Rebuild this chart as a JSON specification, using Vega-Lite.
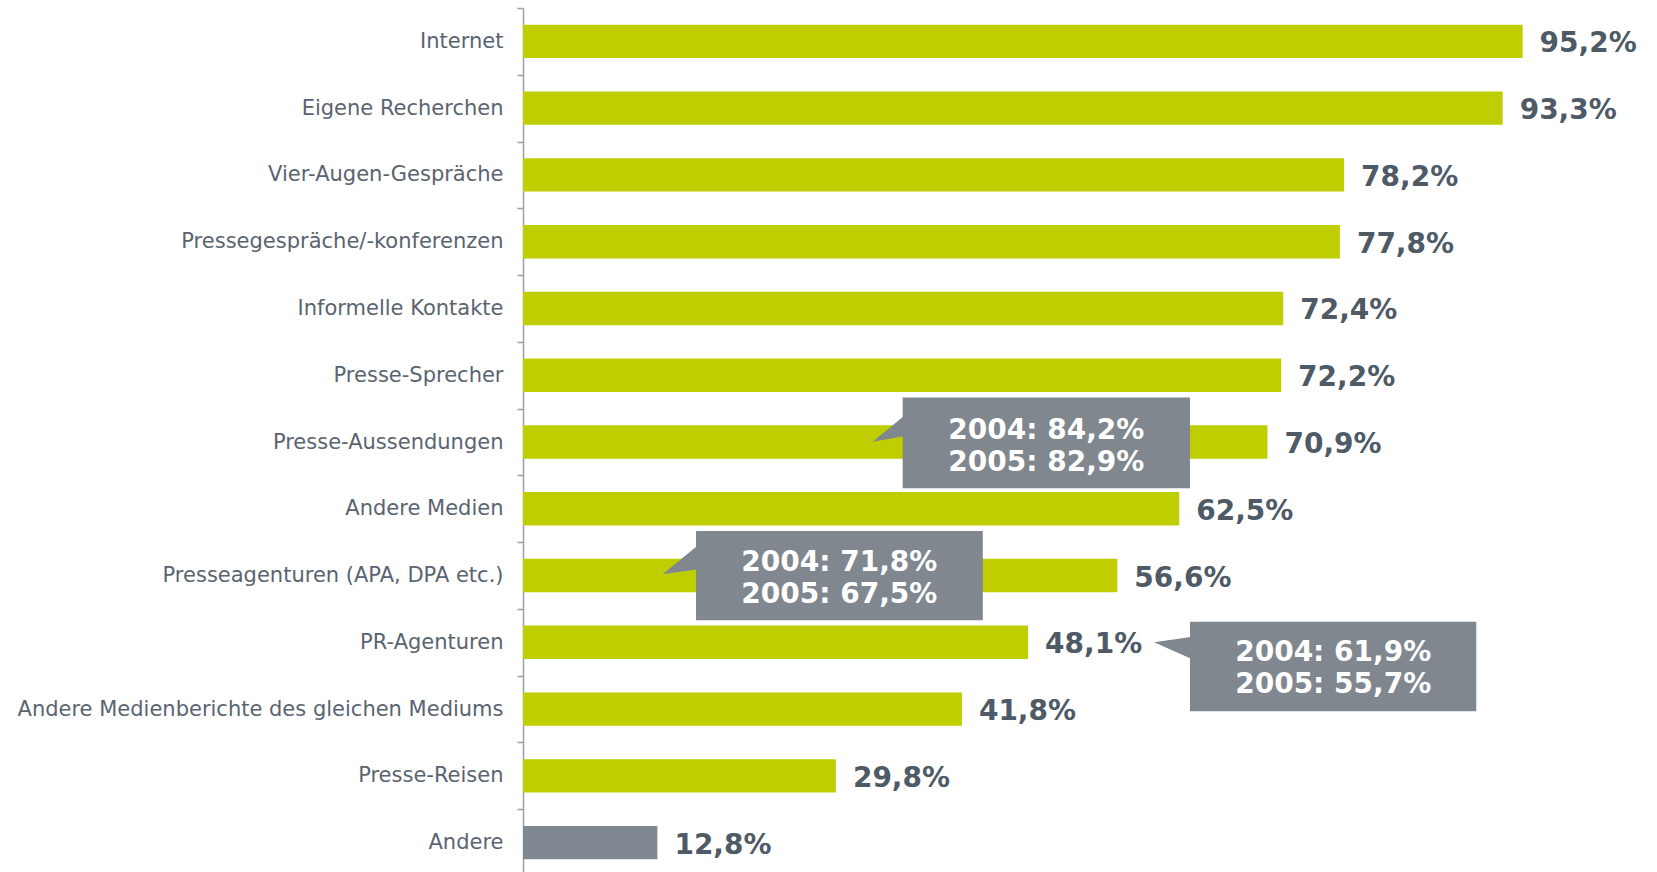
{
  "$schema": "https://vega.github.io/schema/vega-lite/v6.json",
  "autosize": {"type": "none"},
  "padding": {"left": 523, "top": 8, "right": 84, "bottom": 0},
  "width": 1050,
  "height": 868,
  "background": "white",
  "config": {"view": {"stroke": null}},
  "datasets": {
    "bars": [
      {"source": "Internet", "value": 95.2, "shown": "95,2%", "kind": "main"},
      {"source": "Eigene Recherchen", "value": 93.3, "shown": "93,3%", "kind": "main"},
      {"source": "Vier-Augen-Gespräche", "value": 78.2, "shown": "78,2%", "kind": "main"},
      {"source": "Pressegespräche/-konferenzen", "value": 77.8, "shown": "77,8%", "kind": "main"},
      {"source": "Informelle Kontakte", "value": 72.4, "shown": "72,4%", "kind": "main"},
      {"source": "Presse-Sprecher", "value": 72.2, "shown": "72,2%", "kind": "main"},
      {"source": "Presse-Aussendungen", "value": 70.9, "shown": "70,9%", "kind": "main"},
      {"source": "Andere Medien", "value": 62.5, "shown": "62,5%", "kind": "main"},
      {"source": "Presseagenturen (APA, DPA etc.)", "value": 56.6, "shown": "56,6%", "kind": "main"},
      {"source": "PR-Agenturen", "value": 48.1, "shown": "48,1%", "kind": "main"},
      {"source": "Andere Medienberichte des gleichen Mediums", "value": 41.8, "shown": "41,8%", "kind": "main"},
      {"source": "Presse-Reisen", "value": 29.8, "shown": "29,8%", "kind": "main"},
      {"source": "Andere", "value": 12.8, "shown": "12,8%", "kind": "other"}
    ],
    "boxes": [
      {"id": 1, "x1": 36.16, "x2": 63.52, "y1": 5.833, "y2": 7.192},
      {"id": 2, "x1": 16.48, "x2": 43.79, "y1": 7.833, "y2": 9.170},
      {"id": 3, "x1": 63.52, "x2": 90.79, "y1": 9.191, "y2": 10.532}
    ],
    "pointers": [
      {"id": 1, "x": 33.30, "ya": 6.495, "yb": 6.495},
      {"id": 1, "x": 36.40, "ya": 6.096, "yb": 6.410},
      {"id": 2, "x": 13.30, "ya": 8.481, "yb": 8.481},
      {"id": 2, "x": 16.70, "ya": 8.043, "yb": 8.407},
      {"id": 3, "x": 60.10, "ya": 9.500, "yb": 9.500},
      {"id": 3, "x": 63.75, "ya": 9.416, "yb": 9.754}
    ],
    "notes": [
      {"x": 49.84, "y": 6.335, "note": "2004: 84,2%"},
      {"x": 49.84, "y": 6.812, "note": "2005: 82,9%"},
      {"x": 30.13, "y": 8.312, "note": "2004: 71,8%"},
      {"x": 30.13, "y": 8.791, "note": "2005: 67,5%"},
      {"x": 77.16, "y": 9.660, "note": "2004: 61,9%"},
      {"x": 77.16, "y": 10.135, "note": "2005: 55,7%"}
    ]
  },
  "resolve": {"scale": {"y": "independent"}},
  "layer": [
    {
      "data": {"name": "bars"},
      "encoding": {
        "y": {
          "field": "source",
          "type": "nominal",
          "sort": null,
          "scale": {"paddingInner": 0.5, "paddingOuter": 0.25},
          "axis": {
            "title": null,
            "labelFont": "DejaVu Sans",
            "labelFontSize": 21,
            "labelColor": "#5a6470",
            "labelPadding": 14,
            "labelLimit": 600,
            "labelOffset": 33.4,
            "tickSize": 6,
            "tickOffset": -33.4,
            "tickColor": "#9aa0a7",
            "tickWidth": 1.5,
            "domainColor": "#9aa0a7",
            "domainWidth": 1.5
          }
        },
        "x": {
          "field": "value",
          "type": "quantitative",
          "scale": {"domain": [0, 100], "nice": false},
          "axis": null
        }
      },
      "layer": [
        {
          "mark": {"type": "bar"},
          "encoding": {
            "color": {
              "field": "kind",
              "type": "nominal",
              "scale": {"domain": ["main", "other"], "range": ["#bfce00", "#7f8790"]},
              "legend": null
            }
          }
        },
        {
          "mark": {
            "type": "text",
            "align": "left",
            "baseline": "middle",
            "dx": 17,
            "dy": 3,
            "font": "DejaVu Sans",
            "fontWeight": "bold",
            "fontSize": 28,
            "color": "#4e5a66"
          },
          "encoding": {"text": {"field": "shown", "type": "nominal"}}
        }
      ]
    },
    {
      "layer": [
        {
          "data": {"name": "boxes"},
          "mark": {"type": "rect", "color": "#80878f"},
          "encoding": {
            "x": {"field": "x1", "type": "quantitative", "scale": {"domain": [0, 100], "nice": false}, "axis": null},
            "x2": {"field": "x2"},
            "y": {"field": "y1", "type": "quantitative", "scale": {"domain": [0, 13], "nice": false, "zero": false, "reverse": true}, "axis": null},
            "y2": {"field": "y2"}
          }
        },
        {
          "data": {"name": "pointers"},
          "mark": {"type": "area", "color": "#80878f", "interpolate": "linear"},
          "encoding": {
            "x": {"field": "x", "type": "quantitative", "axis": null},
            "y": {"field": "ya", "type": "quantitative", "axis": null},
            "y2": {"field": "yb"},
            "detail": {"field": "id", "type": "nominal"}
          }
        },
        {
          "data": {"name": "notes"},
          "mark": {
            "type": "text",
            "align": "center",
            "baseline": "middle",
            "font": "DejaVu Sans",
            "fontWeight": "bold",
            "fontSize": 28,
            "color": "#ffffff"
          },
          "encoding": {
            "x": {"field": "x", "type": "quantitative", "axis": null},
            "y": {"field": "y", "type": "quantitative", "axis": null},
            "text": {"field": "note", "type": "nominal"}
          }
        }
      ]
    }
  ]
}
